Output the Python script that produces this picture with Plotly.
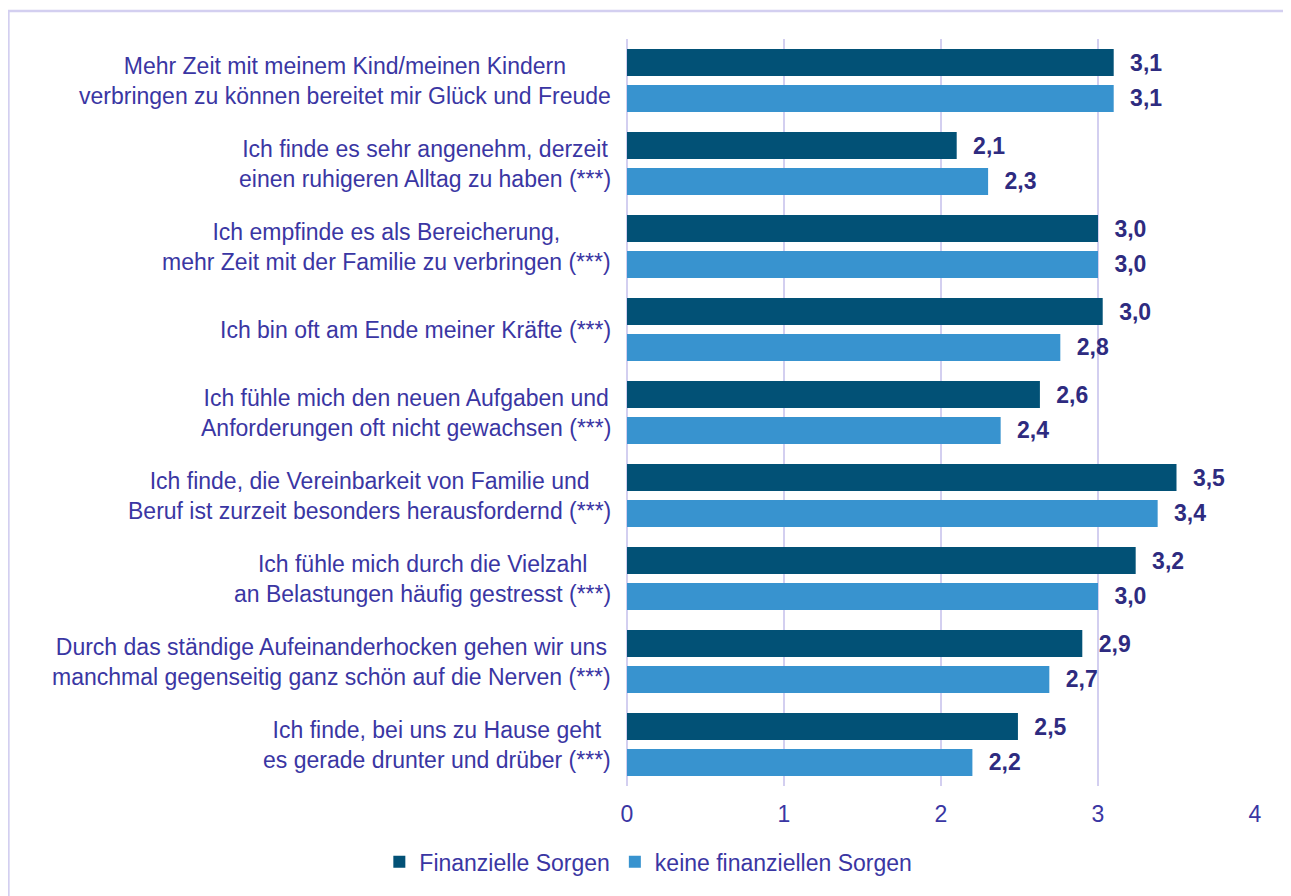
import plotly.graph_objects as go

categories = [
    "Mehr Zeit mit meinem Kind/meinen Kindern<br>verbringen zu können bereitet mir Glück und Freude",
    "Ich finde es sehr angenehm, derzeit<br>einen ruhigeren Alltag zu haben (***)",
    "Ich empfinde es als Bereicherung,<br>mehr Zeit mit der Familie zu verbringen (***)",
    "Ich bin oft am Ende meiner Kräfte (***)",
    "Ich fühle mich den neuen Aufgaben und<br>Anforderungen oft nicht gewachsen (***)",
    "Ich finde, die Vereinbarkeit von Familie und<br>Beruf ist zurzeit besonders herausfordernd (***)",
    "Ich fühle mich durch die Vielzahl<br>an Belastungen häufig gestresst (***)",
    "Durch das ständige Aufeinanderhocken gehen wir uns<br>manchmal gegenseitig ganz schön auf die Nerven (***)",
    "Ich finde, bei uns zu Hause geht<br>es gerade drunter und drüber (***)",
]
finanzielle = [3.10, 2.10, 3.00, 3.03, 2.63, 3.50, 3.24, 2.90, 2.49]
keine = [3.10, 2.30, 3.00, 2.76, 2.38, 3.38, 3.00, 2.69, 2.20]
series_names = ["Finanzielle Sorgen", "keine finanziellen Sorgen"]
x_ticks = [0, 1, 2, 3, 4]

TEXT = "#3A36A3"
VAL = "#2E2B80"
GRID = "#D3CFF0"
FONT = "Liberation Sans, Arial, sans-serif"
FS = 23

idx = list(range(len(categories)))

def fmt(v):
    return "\u2002\u200a" + f"{v:.1f}".replace(".", ",")

fig = go.Figure()
for name, vals, col in [(series_names[0], finanzielle, "#025176"),
                        (series_names[1], keine, "#3893CF")]:
    fig.add_trace(go.Bar(
        y=idx, x=vals, name=name, orientation="h",
        marker=dict(color=col, line=dict(width=0)),
        text=[fmt(v) for v in vals], textposition="outside",
        textfont=dict(family=FONT, size=FS, color=VAL, weight="bold"),
        cliponaxis=False,
    ))

for i, c in enumerate(categories):
    fig.add_annotation(
        x=0, xref="paper", y=i, yref="y", text=c, showarrow=False,
        xanchor="right", yanchor="middle", align="center", xshift=-14,
        font=dict(family=FONT, size=FS, color=TEXT),
    )

fig.add_shape(type="rect", xref="paper", yref="paper",
              x0=-0.985, x1=1.0557, y0=-0.3, y1=1.0375,
              line=dict(color=GRID, width=2.5), layer="below")

fig.update_layout(
    width=1291, height=896,
    margin=dict(l=619, r=44, t=31, b=118),
    paper_bgcolor="white", plot_bgcolor="white",
    barmode="group", bargap=0.133, bargroupgap=0.25,
    font=dict(family=FONT, size=FS, color=TEXT),
    showlegend=True,
    legend=dict(orientation="h", xref="container", x=0.496, xanchor="center",
                yref="container", y=0.047, yanchor="middle",
                font=dict(family=FONT, size=FS, color=TEXT),
                itemwidth=30, traceorder="normal"),
    xaxis=dict(range=[0, 4], tickvals=x_ticks, showgrid=True, gridcolor=GRID,
               gridwidth=1.5, zeroline=True, zerolinecolor=GRID, zerolinewidth=1.5,
               tickfont=dict(family=FONT, size=FS, color=TEXT),
               ticklabelstandoff=12, showline=False),
    yaxis=dict(autorange="reversed", showticklabels=False, showgrid=False,
               zeroline=False),
)
fig.write_html("out.html")
